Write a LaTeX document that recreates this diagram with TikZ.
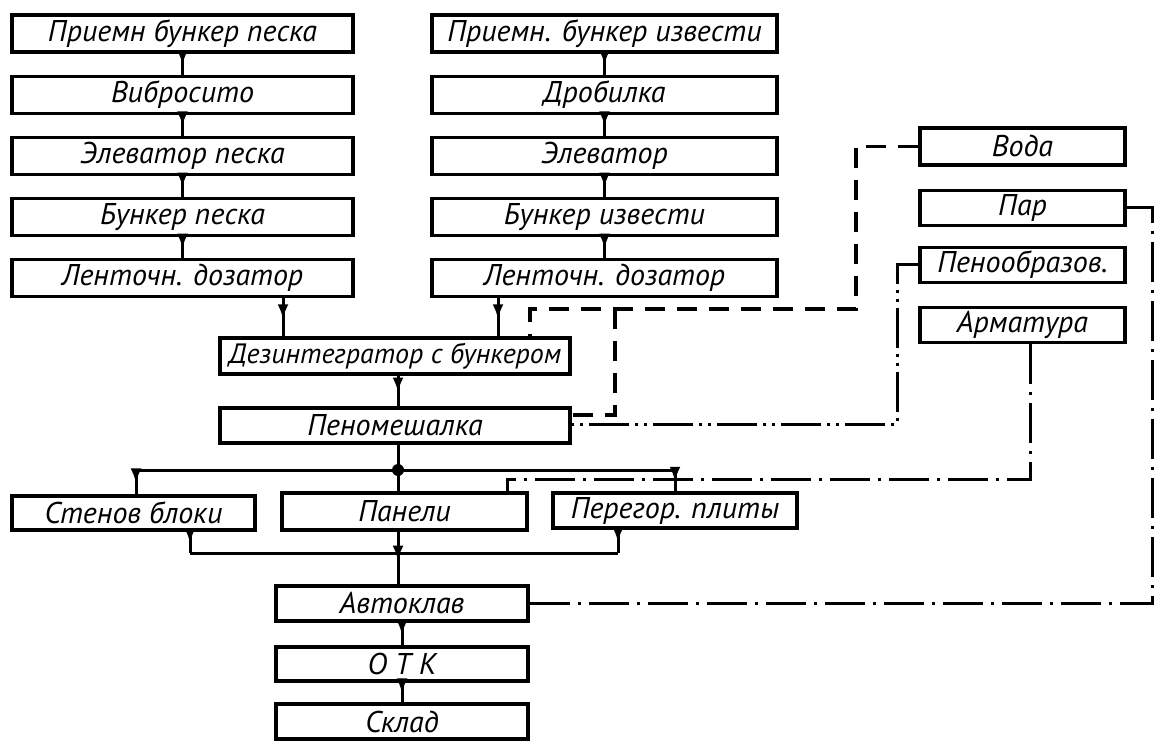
\documentclass[tikz,border=0pt]{standalone}
\usepackage{fontspec}
\setmainfont{PT Sans}
\usepackage{tikz}
\usetikzlibrary{positioning}
\usetikzlibrary{arrows.meta}
\usetikzlibrary{decorations.markings}

\begin{document}
\begin{tikzpicture}
[
x=0.5pt, y=-0.5pt,
box-a/.style={rectangle,draw,line width=1.6pt,inner sep=0pt,minimum height=17.5pt,font=\fontsize{15}{17}\selectfont\itshape},
col-a/.style={box-a,minimum width=170.5pt,minimum height=18.5pt},
col-b/.style={box-a,minimum width=172.5pt,minimum height=18.5pt},
col-c/.style={box-a,minimum width=102.5pt},
flow/.style={line width=1.5pt,postaction={decorate},decoration={markings,mark=at position 0.55 with {\arrow{Latex[length=7.5pt,width=5.5pt]}}}},
line-a/.style={line width=1.5pt},
water/.style={line width=1.6pt,dash pattern=on 10pt off 6pt},
dash-dot-a/.style={line width=1.5pt,dash pattern=on 20pt off 4pt on 1.5pt off 4pt},
dash-dot-b/.style={line width=1.5pt,dash pattern=on 20pt off 3pt on 1.5pt off 3pt on 1.5pt off 3pt},
]
\useasboundingbox (0,0) rectangle (1154,742);
\node (ps1) [col-a] at (182.5,33.5)         {Приемн бункер песка};
\node (ps2) [col-a, below = 10.5pt of ps1]  {Вибросито};
\node (ps3) [col-a, below = 10.5pt of ps2]  {Элеватор песка};
\node (ps4) [col-a, below = 10.5pt of ps3]  {Бункер песка};
\node (ps5) [col-a, below = 10.5pt of ps4]  {Ленточн. дозатор};
\node (iz1) [col-b] at (604.5,33.5)         {Приемн. бункер извести};
\node (iz2) [col-b, below = 10.5pt of iz1]  {Дробилка};
\node (iz3) [col-b, below = 10.5pt of iz2]  {Элеватор};
\node (iz4) [col-b, below = 10.5pt of iz3]  {Бункер извести};
\node (iz5) [col-b, below = 10.5pt of iz4]  {Ленточн. дозатор};
\node (dz)  [box-a, minimum width=175pt, minimum height=18pt, font=\fontsize{14}{16}\selectfont\itshape] at (395,356) {Дезинтегратор с бункером};
\node (pm)  [box-a, minimum width=175pt] at (395,425.5) {Пеномешалка};
\node (vd)  [col-c, minimum height=18.5pt] at (1022.5,146.5) {Вода};
\node (pr)  [col-c] at (1022.5,208)         {Пар};
\node (po)  [col-c] at (1022.5,265)         {Пенообразов.};
\node (ar)  [col-c] at (1022.5,325)         {Арматура};
\node (sb)  [box-a, minimum width=121.5pt, minimum height=17pt] at (133.5,513) {Стенов блоки};
\node (pn)  [box-a, minimum width=122.5pt, minimum height=18.5pt] at (404.5,511.5) {Панели};
\node (pp)  [box-a, minimum width=122pt] at (675,510.5) {Перегор. плиты};
\node (av)  [box-a, minimum width=126pt] at (402,603.5) {Автоклав};
\node (otk) [box-a, minimum width=126pt, minimum height=17pt] at (402,664) {О Т К};
\node (sk)  [box-a, minimum width=126pt] at (402,721.5) {Склад};

\coordinate (c-a) at (283,0);
\coordinate (c-b) at (498,0);
\coordinate (jn)  at (398,470);
\coordinate (c-l) at (136,470);
\coordinate (c-r) at (675,470);
\coordinate (c-sb) at (190,553);
\coordinate (c-pp) at (618,553);
\coordinate (w1) at (856,309);
\coordinate (w2) at (530,309);
\coordinate (w3) at (615,309);
\coordinate (w4) at (615,415);
\coordinate (f1) at (897,424);
\coordinate (a1) at (1030,479);
\coordinate (a2) at (507,479);
\coordinate (c-e) at (1152,0);

\draw [flow] (ps1) -- (ps2);
\draw [flow] (ps2) -- (ps3);
\draw [flow] (ps3) -- (ps4);
\draw [flow] (ps4) -- (ps5);
\draw [flow] (iz1) -- (iz2);
\draw [flow] (iz2) -- (iz3);
\draw [flow] (iz3) -- (iz4);
\draw [flow] (iz4) -- (iz5);
\draw [flow] (ps5.south -| c-a) -- (dz.north -| c-a);
\draw [flow] (iz5.south -| c-b) -- (dz.north -| c-b);
\draw [flow] (dz.south -| jn) -- (pm.north -| jn);
\draw [line-a] (pm.south -| jn) -- (pn.north -| jn);
\fill (jn) circle (3pt);
\draw [line-a] (c-l) -- (c-r);
\draw [flow] (c-l) -- (sb.north -| c-l);
\draw [flow] (c-r) -- (pp.north -| c-r);
\draw [flow] (sb.south -| c-sb) -- (c-sb);
\draw [flow] (pp.south -| c-pp) -- (c-pp);
\draw [line-a] (c-sb) -- (c-pp);
\draw [flow] (pn.south -| jn) -- (av.north -| jn);
\draw [flow] (av) -- (otk);
\draw [flow] (otk) -- (sk);
\draw [water] (vd.west) -| (w1) -- (w2) -- (dz.north -| w2);
\draw [water] (w3) -- (w4) -- (pm.east |- w4);
\draw [dash-dot-b] (po.west) -| (f1) -- (pm.east |- f1);
\draw [dash-dot-a] (ar.south -| a1) -- (a1) -- (a2) -- (pn.north -| a2);
\draw [dash-dot-a] (pr.east) -- (pr.east -| c-e) -- (av.east -| c-e) -- (av.east);
\end{tikzpicture}
\end{document}
